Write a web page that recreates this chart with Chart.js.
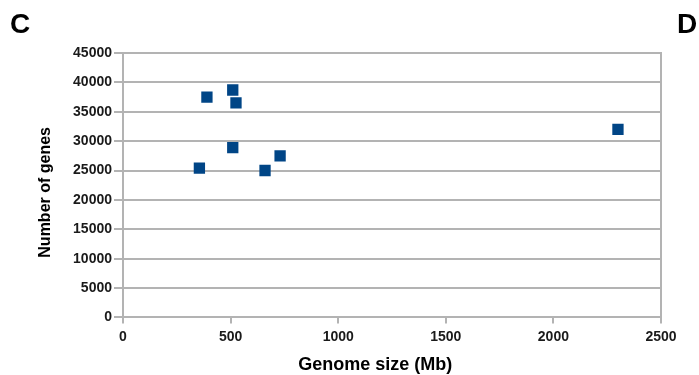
<!DOCTYPE html>
<html>
<head>
<meta charset="utf-8">
<script src="https://cdn.jsdelivr.net/npm/chart.js@4/dist/chart.umd.min.js"></script>
<style>
  body { margin: 0; background: #fff; }
  canvas { display: block; }
</style>
</head>
<body>
<canvas id="genomeChart" width="699" height="375"></canvas>
<script>
// genome size (Mb) vs number of genes
const genomeSize = [390, 510, 525, 510, 730, 355, 660, 2300];
const geneCount = [37500, 38700, 36500, 28900, 27500, 25400, 25000, 32000];
const xTicks = [0, 500, 1000, 1500, 2000, 2500];
const yTicks = [0, 5000, 10000, 15000, 20000, 25000, 30000, 35000, 40000, 45000];
const panelLabels = ['C', 'D'];
const xTitle = 'Genome size (Mb)';
const yTitle = 'Number of genes';

const gridGrey = '#b3b3b3';
const fontFam = '"Liberation Sans", Arial, sans-serif';

// panel letters + axis titles (titles sit a bit off-centre in the original)
const extraText = {
  id: 'extraText',
  afterDraw(chart) {
    const ctx = chart.ctx;
    const area = chart.chartArea;
    ctx.save();
    ctx.fillStyle = '#000';
    ctx.font = 'bold 28px ' + fontFam;
    ctx.textBaseline = 'alphabetic';
    ctx.textAlign = 'left';
    ctx.fillText(panelLabels[0], 10, 33);
    ctx.fillText(panelLabels[1], 677, 33);

    ctx.textAlign = 'center';
    ctx.textBaseline = 'middle';
    ctx.font = 'bold 18px ' + fontFam;
    ctx.fillText(xTitle, area.left + (area.right - area.left) * 0.469, 365);

    ctx.font = 'bold 16px ' + fontFam;
    ctx.translate(45.5, area.top + (area.bottom - area.top) * 0.527);
    ctx.rotate(-Math.PI / 2);
    ctx.fillText(yTitle, 0, 0);
    ctx.restore();
  }
};

const points = genomeSize.map((x, i) => ({ x: x, y: geneCount[i] }));

new Chart('genomeChart', {
  type: 'scatter',
  data: {
    datasets: [{
      data: points,
      backgroundColor: '#004586',
      borderColor: '#004586',
      pointStyle: 'rect',
      pointRadius: 8,
      pointHoverRadius: 8,
      pointBorderWidth: 0
    }]
  },
  options: {
    responsive: false,
    animation: false,
    layout: { padding: { top: 53, left: 0, right: 0, bottom: 0 } },
    plugins: {
      legend: { display: false },
      tooltip: { enabled: false }
    },
    scales: {
      x: {
        type: 'linear',
        min: 0,
        max: 2500,
        afterBuildTicks: (scale) => { scale.ticks = xTicks.map(v => ({ value: v })); },
        afterFit: (scale) => { scale.height = 57.6; },
        grid: { drawOnChartArea: false, drawTicks: true, tickLength: 6, color: gridGrey, lineWidth: 2 },
        border: { color: gridGrey, width: 2 },
        ticks: {
          padding: 5, color: '#1a1a1a',
          font: { family: fontFam, size: 14, weight: 'bold' },
          callback: (v) => String(v)
        }
      },
      y: {
        type: 'linear',
        min: 0,
        max: 45000,
        afterBuildTicks: (scale) => { scale.ticks = yTicks.map(v => ({ value: v })); },
        afterFit: (scale) => { scale.width = 123; },
        grid: { color: gridGrey, lineWidth: 2, tickLength: 9 },
        border: { color: gridGrey, width: 2 },
        ticks: {
          padding: 2, color: '#1a1a1a',
          font: { family: fontFam, size: 14, weight: 'bold' },
          callback: (v) => String(v)
        }
      },
      yRight: {
        type: 'linear',
        position: 'right',
        min: 0,
        max: 45000,
        afterFit: (scale) => { scale.width = 38; },
        grid: { display: false },
        ticks: { display: false },
        border: { color: gridGrey, width: 2 }
      }
    }
  },
  plugins: [extraText]
});
</script>
</body>
</html>
